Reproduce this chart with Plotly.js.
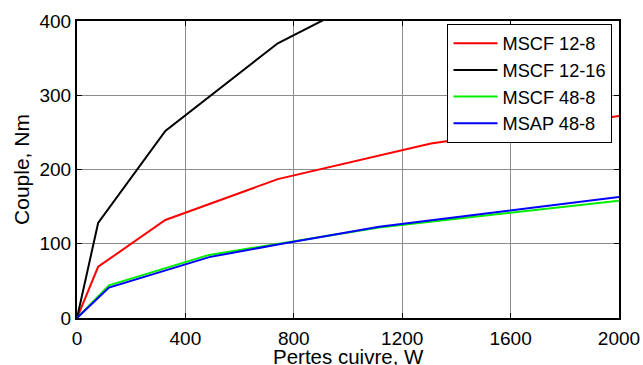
<!DOCTYPE html>
<html>
<head>
<meta charset="utf-8">
<script src="https://cdn.plot.ly/plotly-3.0.1.min.js"></script>
<style>html,body{margin:0;padding:0;background:#fff;}#chart{width:643px;height:365px;}</style>
</head>
<body>
<div id="chart"></div>
<script>
// Series names
const seriesNames = ["MSCF 12-8", "MSCF 12-16", "MSCF 48-8", "MSAP 48-8"];
const seriesColors = ["#ff0000", "#000000", "#00ee00", "#0000ff"];

// MSCF 12-8
const x_mscf12_8 = [0, 78, 326, 741, 1306, 2000];
const y_mscf12_8 = [0, 69, 132, 187, 235, 272];
// MSCF 12-16
const x_mscf12_16 = [0, 78, 326, 741, 1306];
const y_mscf12_16 = [0, 128, 252, 370, 475];
// MSCF 48-8
const x_mscf48_8 = [0, 118, 488, 741, 1115, 2000];
const y_mscf48_8 = [0, 44, 85, 100, 122, 158];
// MSAP 48-8
const x_msap48_8 = [0, 118, 488, 741, 1115, 2000];
const y_msap48_8 = [0, 41, 82, 99, 123, 163];

const xTicks = [0, 400, 800, 1200, 1600, 2000];
const yTicks = [0, 100, 200, 300, 400];
const xTitle = "Pertes cuivre, W";
const yTitle = "Couple, Nm";

const xs = [x_mscf12_8, x_mscf12_16, x_mscf48_8, x_msap48_8];
const ys = [y_mscf12_8, y_mscf12_16, y_mscf48_8, y_msap48_8];

const traces = seriesNames.map((n, i) => ({
  x: xs[i], y: ys[i], name: n, type: "scatter", mode: "lines",
  line: {color: seriesColors[i], width: 2}
}));

const font = {family: "Liberation Sans, Arial, sans-serif", color: "#000"};

const layout = {
  width: 643, height: 365,
  margin: {l: 77, r: 24, t: 21, b: 47},
  paper_bgcolor: "#fff", plot_bgcolor: "#fff",
  font: Object.assign({size: 19}, font),
  showlegend: true,
  legend: {
    x: 0.988, xanchor: "right", y: 0.99, yanchor: "top",
    bgcolor: "#fff", bordercolor: "#000", borderwidth: 1,
    font: Object.assign({size: 18.2}, font),
    tracegroupgap: 0, itemwidth: 44
  },
  xaxis: {
    range: [0, 2000], tickvals: xTicks, ticktext: xTicks.map(String),
    showgrid: true, gridcolor: "#8c8c8c", gridwidth: 1,
    zeroline: false, showline: true, linecolor: "#000", linewidth: 2, mirror: "ticks",
    ticks: "inside", ticklen: 5, tickcolor: "#000", ticklabelstandoff: 2,
    tickfont: Object.assign({size: 19}, font)
  },
  yaxis: {
    range: [0, 400], tickvals: yTicks, ticktext: yTicks.map(String),
    showgrid: true, gridcolor: "#8c8c8c", gridwidth: 1,
    zeroline: false, showline: true, linecolor: "#000", linewidth: 2, mirror: "ticks",
    ticks: "inside", ticklen: 5, tickcolor: "#000",
    tickfont: Object.assign({size: 19}, font),
    title: {text: yTitle, font: Object.assign({size: 21}, font), standoff: 4}
  },
  annotations: [{
    text: xTitle, xref: "paper", yref: "paper", x: 0.5, y: 0,
    xanchor: "center", yanchor: "middle", yshift: -38, showarrow: false,
    font: Object.assign({size: 20.5}, font)
  }]
};

Plotly.newPlot("chart", traces, layout, {displayModeBar: false, staticPlot: true});
</script>
</body>
</html>
